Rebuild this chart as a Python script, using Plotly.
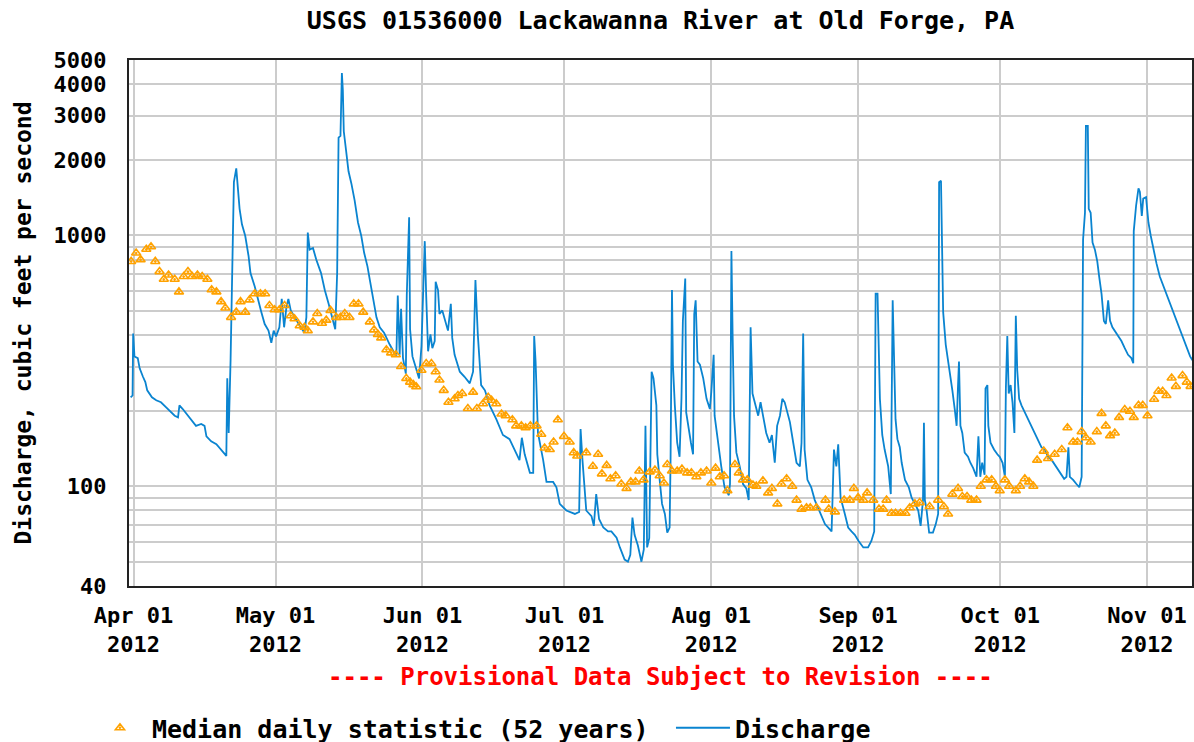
import math
import pandas as pd
import plotly.graph_objects as go

TITLE = "USGS 01536000 Lackawanna River at Old Forge, PA"
Y_TITLE = "Discharge, cubic feet per second"
NOTE = "---- Provisional Data Subject to Revision ----"
START = pd.Timestamp("2012-04-01")

# Discharge (cfs); day = days after 2012-04-01
discharge_day = [
    -0.6, -0.2, -0.07, 0.2, 0.9, 1.3, 2.0, 2.5, 2.9, 3.4, 3.9, 4.8, 5.8, 6.9, 8.0, 8.7, 9.4, 9.7, 10.4, 11.5,
    12.5, 13.2, 14.3, 15.0, 15.4, 16.4, 17.5, 18.5, 19.6, 19.8, 20.1, 20.5, 21.2, 21.7, 22.0, 22.4, 22.9, 23.6,
    24.3, 24.7, 25.6, 26.3, 27.0, 27.7, 28.5, 29.1, 29.6, 30.1, 30.8, 31.3, 31.8, 32.3, 32.7, 33.2, 34.0, 35.1,
    36.1, 36.5, 36.8, 37.2, 37.9, 38.6, 39.6, 40.4, 41.2, 42.1, 42.6, 43.0, 43.3, 43.7, 44.0, 44.2, 44.4, 44.9,
    45.4, 46.0, 46.7, 47.4, 48.1, 48.7, 49.4, 49.9, 50.6, 51.3, 52.0, 52.9, 54.1,
    54.8, 55.5, 55.8, 56.2, 56.5, 56.9, 57.5, 57.7, 58.2, 58.4, 58.9, 59.6, 60.3, 60.8, 61.5, 61.8, 62.2, 62.7,
    63.1, 63.6, 63.8, 64.3, 64.6, 65.2, 65.9, 66.4, 67.0, 67.3, 67.8, 68.9, 69.9, 71.0, 71.7, 72.2, 72.7, 73.4,
    74.2, 75.2, 76.6, 78.0, 79.4, 80.8, 81.5, 82.0, 82.6, 83.7, 84.4, 84.6, 84.9, 85.4, 86.5, 87.2, 88.6, 89.3,
    90.0, 91.4, 93.2, 94.1, 94.4, 94.8, 95.6, 96.7, 97.2, 97.7, 98.3, 99.2, 100.2, 100.9, 102.0, 102.7, 103.7,
    104.4, 104.9, 105.35, 105.8, 106.5, 107.25, 107.75, 108.1, 108.45, 108.9, 109.4, 109.8,
    110.4, 110.6, 111.1, 111.6, 112.2, 112.7, 113.2, 113.4, 113.7, 113.9, 114.3, 114.8, 115.3, 115.7, 116.0,
    116.5, 116.7, 117.1, 117.7, 118.15, 118.4, 118.7, 119.1, 119.6, 120.3, 121.0, 121.7, 122.0, 122.5, 122.7,
    123.4, 124.1, 124.8, 125.7, 125.95, 126.25, 126.5, 126.8, 127.3, 128.0, 128.7, 129.4, 129.9, 130.3, 130.7,
    131.2, 131.9, 132.4, 132.9, 133.6, 134.3, 134.8, 135.4, 135.9, 136.5, 137.0, 137.5, 138.1, 138.6, 139.3,
    140.0, 140.7, 141.05, 141.4, 141.7, 142.3, 143.1, 143.85, 144.55, 145.3, 146.0, 146.7, 147.4, 147.9, 148.4,
    148.8, 149.3, 150.2, 150.9, 151.6, 152.3, 153.1, 154.1, 155.1, 155.8, 156.4, 156.7, 157.1, 157.6, 158.1,
    158.6, 159.35, 159.9, 160.3, 160.6, 160.9, 161.3, 161.8, 162.2, 162.9, 163.7, 164.3, 165.0, 165.7, 166.2,
    166.7, 166.9, 167.1, 167.4, 168.0, 168.8, 169.4, 169.9, 170.1, 170.5, 170.7, 170.96, 171.5, 172.0, 172.5,
    172.9, 173.4, 173.8, 174.1, 174.3, 174.6, 175.0, 175.5, 176.2, 176.7, 177.3, 178.0, 178.4, 178.8, 179.2,
    179.7, 179.9, 180.3, 180.5, 180.96, 181.7, 182.4, 182.9, 183.5, 184.0, 184.2, 184.5, 184.8, 185.2, 185.6,
    186.0, 186.3, 186.6, 187.0, 187.5, 188.2, 188.9, 189.6, 190.3, 191.0, 191.7, 192.4, 193.1, 193.9, 194.5,
    195.3, 196.0, 196.5, 197.0, 197.4, 197.7, 198.4, 199.1, 199.7, 200.2, 200.5, 200.9, 201.1, 201.5, 201.7,
    202.1, 202.5, 203.0, 203.5, 203.9, 204.4, 204.9, 205.3, 205.8, 206.2, 206.7, 207.2, 207.9, 208.6, 209.3,
    210.0, 210.7, 211.1, 211.2, 211.7, 212.2, 212.5, 212.9, 213.2, 213.8, 214.3, 214.8, 215.3, 216.0, 216.7,
    217.4, 218.1, 218.8, 219.5, 220.3, 221.0, 221.7, 222.4, 223.1, 223.6,
]
discharge_cfs = [
    226, 230, 406, 329, 324, 295, 273, 260, 241, 234, 226, 220, 216, 206, 197, 191, 188, 210, 203, 191,
    180, 174, 177, 174, 158, 151, 147, 140, 132, 269, 163, 319, 1630, 1850, 1580, 1275, 1106, 994,
    826, 707, 625, 551, 494, 443, 417, 373, 417, 395, 430, 558, 430, 518, 558, 502, 471, 436,
    409, 471, 1026, 877, 890, 799, 707, 604, 534, 457, 422, 707, 2450, 2490, 4440, 3800, 2600, 2165,
    1800, 1610, 1375, 1125, 994, 852, 752, 664, 568, 471, 430, 409, 367,
    345, 329, 576, 334, 510, 324, 281, 576, 1180, 422, 329, 300, 269, 361, 948, 576, 345, 403,
    355, 379, 653, 605, 486, 502, 456, 417, 533, 390, 334, 286, 273, 257, 286, 664, 403, 253,
    241, 210, 185, 160, 154, 136, 127, 156, 134, 113, 113, 397, 314, 163, 127, 104, 104, 99,
    85, 80, 77.5, 79, 169, 127, 80, 76, 69.5, 93, 74, 68.4, 66, 66, 62.3, 57, 51,
    50, 53.3, 75, 64, 58, 50, 56, 174, 57, 62, 286, 269,
    210, 134, 106, 85, 77.5, 65.3, 68.4, 127, 605, 305, 210, 149, 131, 223, 456,
    673, 197, 174, 149, 134, 486, 551, 314, 305, 269, 223, 203, 237, 334, 191,
    149, 120, 99, 92, 102, 866, 403, 191, 136, 120, 102, 98, 88, 430, 234,
    216, 191, 216, 191, 163, 149, 160, 124, 174, 191, 223, 216, 197, 180, 149,
    124, 120, 149, 406, 140, 106, 99, 88, 82, 76, 70.6, 68.4, 66, 140, 120,
    147, 90, 77.5, 68.4, 66, 64, 60.5, 57, 57, 60.5, 66, 585, 585, 223, 160,
    140, 120, 93, 551, 269, 185, 154, 143, 124, 106, 99, 90, 85, 80, 69.5,
    88, 179, 88, 82, 65.3, 65.3, 70.6, 77.5, 1630, 1650, 935, 494, 367, 319, 278,
    241, 203, 174, 253, 314, 174, 163, 136, 131, 124, 118, 109, 158, 109, 124,
    111, 245, 253, 174, 149, 140, 134, 131, 124, 109, 245, 397, 234, 253, 216,
    163, 478, 290, 223, 210, 197, 185, 174, 163, 154, 143, 140, 131, 127, 122,
    116, 111, 107, 109, 143, 109, 106, 102, 99, 109, 963, 1230, 2730, 2730, 1275,
    1230, 935, 877, 787, 685, 584, 456, 443, 551, 456, 430, 417, 397, 379, 355,
    334, 324, 309, 1040, 1315, 1540, 1490, 1195, 1400, 1420, 1125, 994, 890, 773, 685,
    633, 584, 541, 494, 456, 417, 390, 355, 329, 318,
]

# Median daily statistic (52 years), cfs
median_day = [
    -0.5, 0.56, 1.5, 2.7, 3.7, 4.6, 5.5, 6.4, 7.4, 8.7, 9.6, 10.6, 11.5, 12.4, 13.5, 14.5, 15.6, 16.5, 17.5,
    18.5, 19.4, 20.6, 21.7, 22.6, 23.6, 24.5, 25.6, 26.8, 27.8, 28.7, 29.8, 30.8, 31.9, 33.2, 34.0, 35.1,
    36.1, 36.8, 37.9, 38.8, 39.8, 40.7, 41.6, 42.8, 43.7, 44.6, 45.6, 46.5, 47.5, 48.5, 49.9, 50.8, 51.6,
    52.3, 53.4, 54.4,
    55.4, 56.5, 57.6, 58.4, 59.1, 59.7, 60.8, 61.8, 62.9, 63.8, 64.6, 65.5, 66.5, 67.8, 68.5, 69.4, 70.6,
    71.7, 72.5, 73.8, 74.9, 75.6, 76.6, 77.7, 78.6, 80.0, 80.8, 81.9, 82.8, 83.8, 85.1, 86.1, 86.8, 87.9,
    88.7, 89.6, 90.9, 92.1, 92.95, 93.7, 95.6, 97.0, 98.1, 98.9, 99.9, 100.7, 101.8, 103.0, 104.1, 105.0,
    106.0, 106.8, 107.7, 109.0, 110.1,
    111.1, 112.0, 112.7, 113.7, 114.8, 115.8, 116.9, 117.8, 118.85, 119.8, 121.0, 122.0, 122.9, 123.8,
    124.7, 125.4, 127.0, 127.8, 128.7, 129.6, 130.8, 131.5, 132.9, 134.0, 134.8, 135.95, 136.8, 137.9,
    139.1, 140.0, 141.05, 142.1, 142.9, 144.2, 146.1, 146.8, 148.1, 150.05, 151.25, 152.1, 153.0, 154.1,
    154.9, 156.2, 157.4, 158.3, 159.0, 160.05, 160.9, 161.95, 163.0, 163.9, 165.0, 166.0,
    168.1, 169.9, 171.1, 172.0, 172.9, 174.1, 175.0, 176.0, 176.9, 178.0, 178.9, 180.1, 181.2, 182.1,
    182.9, 184.0, 184.9, 186.3, 187.2, 188.2, 189.1, 190.0, 190.8, 192.2, 193.1, 194.5, 196.0, 197.2,
    198.4, 199.3, 200.2, 201.1, 202.1, 203.4, 204.4, 205.3, 206.2, 207.2, 208.1, 209.3, 210.4, 211.2,
    212.2, 213.1, 214.1, 215.5, 216.4, 217.3, 218.1, 219.2, 220.1, 221.5, 222.4, 223.2,
]
median_cfs = [
    787, 850, 800, 880, 900, 787, 717, 668, 695, 668, 595, 685, 717, 685, 695, 685, 668, 607, 595,
    544, 513, 471, 494, 544, 494, 553, 585, 585, 585, 525, 505, 505, 525, 478, 465, 436,
    430, 417, 452, 488, 446, 459, 502, 471, 471, 488, 471, 533, 533, 494, 452, 420, 403,
    390, 350, 340,
    334, 300, 269, 260, 254, 249, 290, 308, 308, 286, 265, 241, 216, 223, 230, 234, 204,
    237, 204, 213, 226, 220, 213, 194, 191, 184, 174, 174, 171, 174, 174, 161, 142, 140,
    150, 184, 158, 150, 136, 132, 136, 120, 134, 112, 121, 107, 110, 102, 98, 104,
    104, 115, 106, 114, 116,
    110, 103, 122, 115, 115, 117, 113, 113, 109, 113, 115, 103, 118, 109,
    110, 96, 122, 113, 106, 106, 101, 100, 105, 94, 98, 85, 102, 107,
    100, 88, 81, 82, 82, 82, 88, 81, 79, 88, 88, 98, 90, 88,
    94, 88, 81, 81, 88, 78, 78, 78, 78, 82, 85, 86,
    83, 88, 83, 77.5, 93, 98, 91, 91, 88, 88, 100, 106, 106, 100,
    96, 106, 100, 96, 100, 107, 104, 100, 127, 138, 129, 134, 140, 171,
    150, 150, 165, 156, 150, 165, 195, 174, 159, 163, 188, 202, 199, 188,
    210, 210, 191, 222, 239, 239, 230, 270, 250, 276, 260, 250,
]

month_ticks = ["2012-04-01", "2012-05-01", "2012-06-01", "2012-07-01",
               "2012-08-01", "2012-09-01", "2012-10-01", "2012-11-01"]
month_labels = ["Apr 01<br>2012", "May 01<br>2012", "Jun 01<br>2012", "Jul 01<br>2012",
                "Aug 01<br>2012", "Sep 01<br>2012", "Oct 01<br>2012", "Nov 01<br>2012"]

y_grid = [40, 50, 60, 70, 80, 90, 100, 200, 300, 400, 500, 600, 700, 800, 900,
          1000, 2000, 3000, 4000, 5000]
y_labeled = [40, 100, 1000, 2000, 3000, 4000, 5000]
y_text = [str(v) if v in y_labeled else "" for v in y_grid]

X_RANGE = ["2012-03-31 01:12", "2012-11-10 12:00"]
Y_RANGE = [40, 5000]

FONT = "DejaVu Sans Mono"
W, H = 1194, 742
ML, MR, MT, MB = 129, 2, 60, 156
PLOT_H = H - MT - MB

d_time = START + pd.to_timedelta(discharge_day, unit="D")
m_time = START + pd.to_timedelta(median_day, unit="D")

fig = go.Figure()
fig.add_trace(go.Scatter(
    x=d_time, y=discharge_cfs, mode="lines", name="Discharge",
    line=dict(color="#0a84d0", width=1.8), legendrank=2,
))
fig.add_trace(go.Scatter(
    x=m_time, y=median_cfs, mode="markers", name="Median daily statistic (52 years)",
    marker=dict(symbol="triangle-up-open-dot", size=8, color="#ffa200", line=dict(width=1.6)),
    legendrank=1,
))

fig.update_layout(
    width=W, height=H,
    margin=dict(l=ML, r=MR, t=MT, b=MB, autoexpand=False),
    paper_bgcolor="white", plot_bgcolor="white",
    font=dict(family=FONT, size=22, color="black", weight="bold"),
    title=dict(text=TITLE, x=0.5, xref="paper", xanchor="center",
               y=1 - 20 / H, yref="container", yanchor="middle",
               font=dict(family=FONT, size=25, color="black", weight="bold")),
    showlegend=True,
    legend=dict(orientation="h", x=-0.0386, xanchor="left", y=(MT + PLOT_H - 728) / PLOT_H,
                yanchor="middle",
                font=dict(family=FONT, size=25, color="black", weight="bold"),
                bgcolor="rgba(0,0,0,0)", itemwidth=54, entrywidth=514,
                traceorder="normal"),
    xaxis=dict(
        type="date", range=X_RANGE, tickvals=month_ticks, ticktext=month_labels,
        showgrid=True, gridcolor="#cccccc", gridwidth=2,
        showline=True, linecolor="#222222", linewidth=2, mirror=True,
        ticks="outside", ticklen=9, tickcolor="rgba(0,0,0,0)",
        tickfont=dict(family=FONT, size=22, color="black", weight="bold"),
        zeroline=False, automargin=False,
    ),
    yaxis=dict(
        type="log", range=[math.log10(Y_RANGE[0]), math.log10(Y_RANGE[1])],
        tickvals=y_grid, ticktext=y_text,
        showgrid=True, gridcolor="#cccccc", gridwidth=2,
        showline=True, linecolor="#222222", linewidth=2, mirror=True,
        ticks="outside", ticklen=16, tickcolor="rgba(0,0,0,0)",
        tickfont=dict(family=FONT, size=22, color="black", weight="bold"),
        title=dict(text=Y_TITLE, standoff=16,
                   font=dict(family=FONT, size=23, color="black", weight="bold")),
        zeroline=False, automargin=False,
    ),
    annotations=[dict(
        text=NOTE, xref="paper", yref="paper", x=0.5, y=(MT + PLOT_H - 677) / PLOT_H,
        xanchor="center", yanchor="middle", showarrow=False,
        font=dict(family=FONT, size=24, color="#ff0000", weight="bold"),
    )],
)

fig.write_html("out.html", config={"displayModeBar": False},
               post_script="document.body.style.margin='0';")
